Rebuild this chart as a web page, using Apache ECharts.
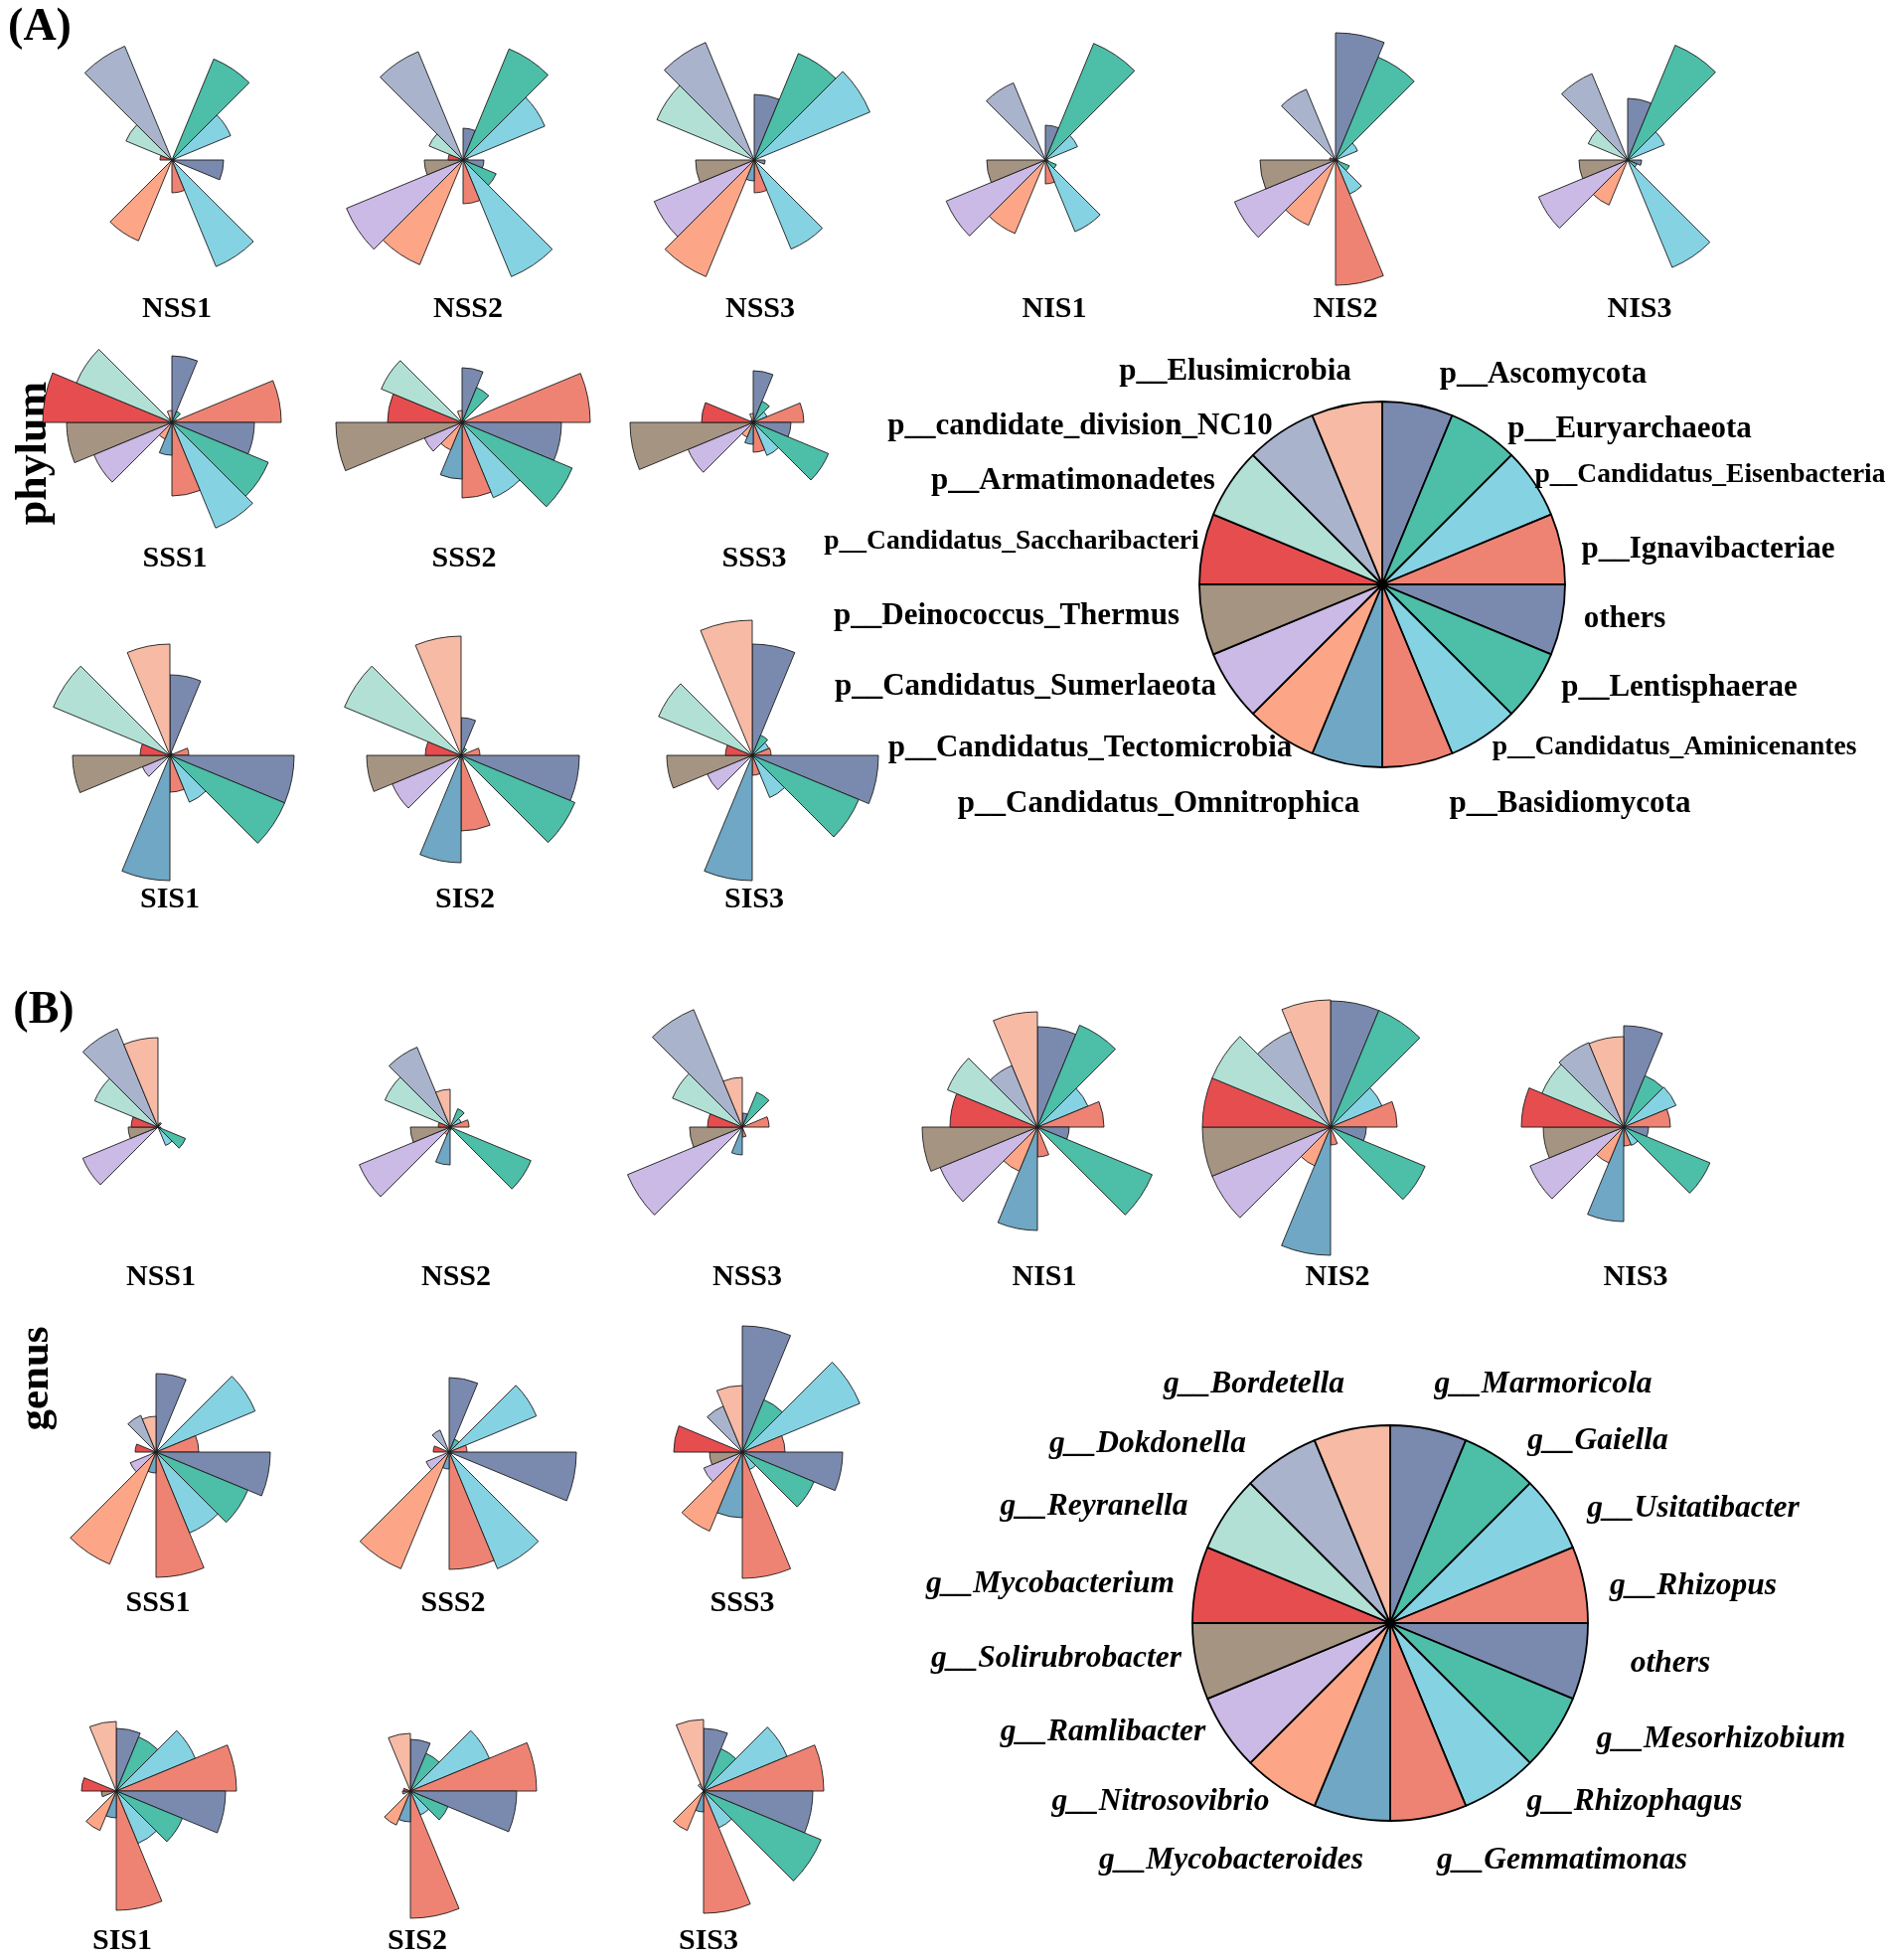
<!DOCTYPE html>
<html>
<head>
<meta charset="utf-8">
<script src="https://cdn.jsdelivr.net/npm/echarts@6/dist/echarts.min.js"></script>
<style>
html,body{margin:0;padding:0;background:#ffffff;}
#chart{width:1902px;height:1972px;}
</style>
</head>
<body>
<div id="chart"></div>
<script>
// ---------------- categories ----------------
const phylumNames = ['p__Ascomycota','p__Euryarchaeota','p__Candidatus_Eisenbacteria','p__Ignavibacteriae','others',
  'p__Lentisphaerae','p__Candidatus_Aminicenantes','p__Basidiomycota','p__Candidatus_Omnitrophica',
  'p__Candidatus_Tectomicrobia','p__Candidatus_Sumerlaeota','p__Deinococcus_Thermus','p__Candidatus_Saccharibacteri',
  'p__Armatimonadetes','p__candidate_division_NC10','p__Elusimicrobia'];
const genusNames = ['g__Marmoricola','g__Gaiella','g__Usitatibacter','g__Rhizopus','others',
  'g__Mesorhizobium','g__Rhizophagus','g__Gemmatimonas','g__Mycobacteroides',
  'g__Nitrosovibrio','g__Ramlibacter','g__Solirubrobacter','g__Mycobacterium',
  'g__Reyranella','g__Dokdonella','g__Bordetella'];
const sampleNames = ['NSS1','NSS2','NSS3','NIS1','NIS2','NIS3','SSS1','SSS2','SSS3','SIS1','SIS2','SIS3'];
const legendShare = [1,1,1,1,1,1,1,1,1,1,1,1,1,1,1,1];

// ---------------- phylum values (rose radii) ----------------
const phylumNSS1 = [0,110,64,3,52,3,116,33,0,88,0,0,12,50,124,0];
const phylumNSS2 = [32,121,89,5,21,36,127,44,0,114,127,39,15,37,118,0];
const phylumNSS3 = [66,116,126,0,11,0,97,33,21,127,109,59,0,106,128,0];
const phylumNIS1 = [35,127,35,0,3,12,78,24,0,80,108,59,0,0,84,0];
const phylumNIS2 = [128,112,24,0,3,15,37,126,0,71,110,76,6,3,77,0];
const phylumNIS3 = [62,125,40,0,14,10,117,0,0,49,97,49,0,43,94,0];
const phylumSSS1 = [67,12,5,110,83,105,115,74,33,18,85,106,130,104,5,12];
const phylumSSS2 = [55,38,3,129,100,120,82,76,57,30,41,127,75,88,3,12];
const phylumSSS3 = [52,23,15,51,38,82,36,30,22,16,71,124,52,3,3,9];
const phylumSIS1 = [81,3,3,19,125,125,51,37,126,0,30,98,30,127,0,112];
const phylumSIS2 = [38,8,0,19,119,124,5,76,108,3,75,95,36,127,0,120];
const phylumSIS3 = [112,22,18,19,127,116,46,20,126,0,49,86,27,102,0,136];

// ---------------- genus values (rose radii) ----------------
const genusNSS1 = [3,5,0,0,3,30,20,0,0,0,82,30,27,69,107,90];
const genusNSS2 = [0,20,12,19,0,88,0,3,38,8,99,40,12,71,87,38];
const genusNSS3 = [14,38,3,27,0,0,0,10,28,0,125,53,35,76,128,50];
const genusNIS1 = [101,111,55,67,32,125,0,30,104,48,106,116,88,98,67,116];
const genusNIS2 = [127,127,56,67,36,103,0,18,129,42,129,129,129,129,104,128];
const genusNIS3 = [102,56,57,47,25,94,20,19,95,39,102,81,103,89,92,91];
const genusSSS1 = [79,3,108,43,115,100,88,126,21,122,28,3,21,0,40,36];
const genusSSS2 = [75,14,95,18,128,3,127,118,17,127,25,0,16,0,24,0];
const genusSSS3 = [127,57,128,43,101,78,19,127,66,86,42,33,69,0,50,67];
const genusSIS1 = [63,59,86,121,110,72,57,120,27,43,0,15,35,0,0,70];
const genusSIS2 = [52,41,86,127,107,41,26,128,31,37,0,8,7,0,0,58];
const genusSIS3 = [63,46,91,121,110,128,40,123,21,43,0,0,0,0,8,72];

const phylumSets = [phylumNSS1,phylumNSS2,phylumNSS3,phylumNIS1,phylumNIS2,phylumNIS3,
  phylumSSS1,phylumSSS2,phylumSSS3,phylumSIS1,phylumSIS2,phylumSIS3];
const genusSets = [genusNSS1,genusNSS2,genusNSS3,genusNIS1,genusNIS2,genusNIS3,
  genusSSS1,genusSSS2,genusSSS3,genusSIS1,genusSIS2,genusSIS3];

// ---------------- styling / layout (kept apart from data) ----------------
const palette = ['#7a89ae','#4dbea8','#85d2e3','#ef8373','#7a89ae','#4dbea8','#85d2e3','#ef8373',
  '#6fa7c4','#fca587','#cbb9e6','#a59482','#e64d4f','#b2e0d5','#a9b3cc','#f6baa5'];
const FONT = "'Liberation Serif','Times New Roman',serif";
const RMAX = 140;      // radius axis max
const RPX = 140;       // polar radius in px

const layoutA = {
  centers: [[173,161],[466,161],[759,161],[1052,161],[1344,161],[1638,161],
            [173,425],[465,425],[758,425],[171,760],[464,760],[757,760]],
  labels:  [[178,311],[471,311],[765,311],[1061,311],[1354,311],[1650,311],
            [176,562],[467,562],[759,562],[171,905],[468,905],[759,905]]
};
const layoutB = {
  centers: [[159,1134],[453,1134],[747,1134],[1044,1134],[1339,1134],[1634,1134],
            [157,1461],[452,1461],[747,1461],[117,1802],[413,1802],[708,1802]],
  labels:  [[162,1285],[459,1285],[752,1285],[1051,1285],[1346,1285],[1646,1285],
            [159,1613],[456,1613],[747,1613],[123,1953],[420,1953],[713,1953]]
};
const legendA = {center:[1391,588], r:184,
  offsets:[[162,-211],[249,-156],[330,-110],[328,-35],[244,35],[299,104],[294,164],[189,221],
           [-225,221],[-294,165],[-359,103],[-378,32],[-373,-43],[-311,-104],[-304,-159],[-148,-214]],
  small:[2,6,12]};
const legendB = {center:[1399,1633], r:199,
  offsets:[[154,-240],[209,-183],[305,-115],[305,-37],[282,41],[333,117],[246,180],[173,239],
           [-160,239],[-231,180],[-289,110],[-336,36],[-342,-39],[-298,-117],[-244,-180],[-137,-240]]};

const polar = [], angleAxis = [], radiusAxis = [], series = [], titles = [];
const cats = phylumNames.map((_, i) => 'c' + i);

function addRose(values, center) {
  const k = polar.length;
  polar.push({center: center, radius: RPX});
  angleAxis.push({polarIndex:k, type:'category', data:cats, startAngle:90, clockwise:true, boundaryGap:true,
    axisLine:{show:false}, axisTick:{show:false}, axisLabel:{show:false}, splitLine:{show:false}, splitArea:{show:false}});
  radiusAxis.push({polarIndex:k, type:'value', min:0, max:RMAX,
    axisLine:{show:false}, axisTick:{show:false}, axisLabel:{show:false}, splitLine:{show:false}, splitArea:{show:false}});
  series.push({type:'bar', coordinateSystem:'polar', polarIndex:k, data: values, barCategoryGap:'0%',
    silent:true, animation:false,
    itemStyle:{color: p => palette[p.dataIndex], borderColor:'#1c1c1c', borderWidth:0.9}});
}
function addText(text, pos, size) {
  titles.push({text:text, left:pos[0], top:pos[1], textAlign:'center', textVerticalAlign:'middle', padding:0,
    textStyle:{fontFamily:FONT, fontWeight:'bold', fontSize:size, color:'#000'}});
}

phylumSets.forEach((v, i) => { addRose(v, layoutA.centers[i]); addText(sampleNames[i], layoutA.labels[i], 30); });
genusSets.forEach((v, i) => { addRose(v, layoutB.centers[i]); addText(sampleNames[i], layoutB.labels[i], 30); });
addText('(A)', [40, 28], 46);
addText('(B)', [44, 1017], 46);

function legendPie(names, cfg, italic) {
  return {
    type:'pie', center: cfg.center, radius: cfg.r, startAngle:90, clockwise:true,
    avoidLabelOverlap:false, silent:true, animation:false,
    data: names.map((n, i) => ({name:n, value:legendShare[i],
      label:{fontSize: (cfg.small && cfg.small.indexOf(i) >= 0) ? 27.5 : (italic ? 31.5 : 31)}})),
    itemStyle:{color: p => palette[p.dataIndex], borderColor:'#000', borderWidth:1.8},
    label:{show:true, position:'outside', formatter:'{b}', fontFamily:FONT, fontWeight:'bold',
      fontStyle: italic ? 'italic' : 'normal', color:'#000'},
    labelLine:{show:false},
    labelLayout: p => ({x: cfg.center[0] + cfg.offsets[p.dataIndex][0], y: cfg.center[1] + cfg.offsets[p.dataIndex][1],
      align:'center', verticalAlign:'middle'})
  };
}
series.push(legendPie(phylumNames, legendA, false));
series.push(legendPie(genusNames, legendB, true));

const option = {
  backgroundColor:'#ffffff',
  animation:false,
  title: titles,
  polar: polar,
  angleAxis: angleAxis,
  radiusAxis: radiusAxis,
  series: series,
  graphic: [
    {type:'text', x:35, y:456, rotation:Math.PI/2,
      style:{text:'phylum', font:"bold 44px " + FONT, fill:'#000', align:'center', verticalAlign:'middle',
        textAlign:'center', textVerticalAlign:'middle'}},
    {type:'text', x:37, y:1387, rotation:Math.PI/2,
      style:{text:'genus', font:"bold 43px " + FONT, fill:'#000', align:'center', verticalAlign:'middle',
        textAlign:'center', textVerticalAlign:'middle'}}
  ]
};
const chart = echarts.init(document.getElementById('chart'), null, {renderer:'canvas', width:1902, height:1972});
chart.setOption(option);
</script>
</body>
</html>
